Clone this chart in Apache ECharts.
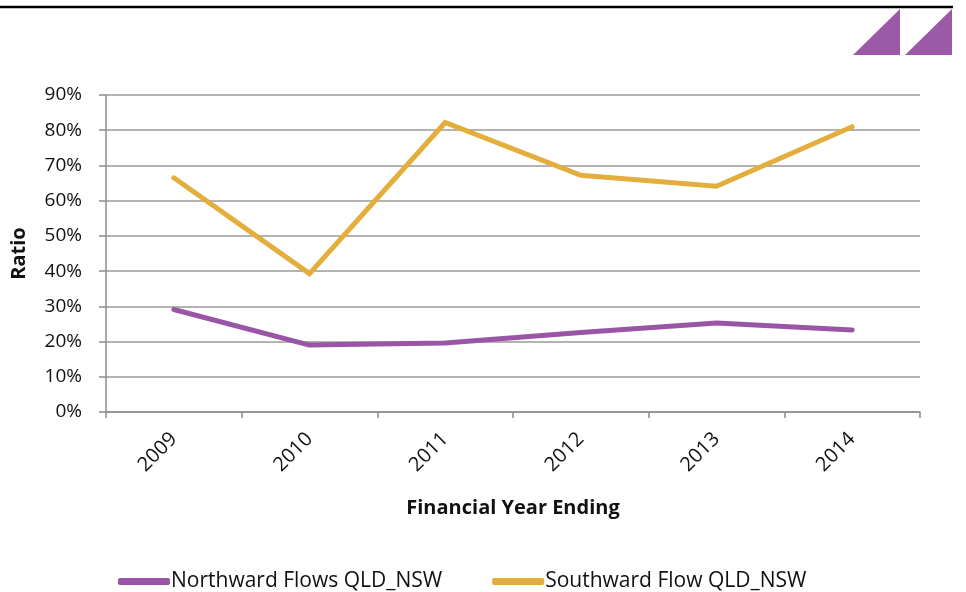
<!DOCTYPE html>
<html>
<head>
<meta charset="utf-8">
<script src="https://cdn.jsdelivr.net/npm/echarts@6/dist/echarts.min.js"></script>
<style>html,body{margin:0;padding:0;background:#fff}#c{width:966px;height:592px}</style>
</head>
<body>
<div id="c"></div>
<script>
const years = ['2009', '2010', '2011', '2012', '2013', '2014'];
const northward = [29.1, 19.0, 19.6, 22.6, 25.3, 23.3];
const southward = [66.5, 39.3, 82.2, 67.2, 64.1, 81.0];
const yTicks = [0, 10, 20, 30, 40, 50, 60, 70, 80, 90];
const seriesNames = ['Northward Flows QLD_NSW', 'Southward Flow QLD_NSW'];

const FONT = '"Open Sans", Lato, sans-serif';
const chart = echarts.init(document.getElementById('c'));
chart.setOption({
  animation: false,
  textStyle: { fontFamily: FONT },
  graphic: [
    { type: 'line', shape: { x1: 0, y1: 7, x2: 953, y2: 7 }, style: { stroke: '#000', lineWidth: 2.5 } },
    { type: 'polygon', shape: { points: [[853, 55], [900, 9], [900, 55]] }, style: { fill: '#9B59A7' } },
    { type: 'polygon', shape: { points: [[905, 55], [952, 9], [952, 55]] }, style: { fill: '#9B59A7' } }
  ],
  grid: { left: 106, right: 46, top: 95, bottom: 180 },
  legend: {
    left: 113, top: 566,
    itemWidth: 52, itemHeight: 7, itemGap: 50,
    icon: 'roundRect',
    textStyle: { fontSize: 21, color: '#111', fontFamily: FONT, padding: [0, 0, 0, -4] },
    data: seriesNames
  },
  xAxis: {
    type: 'category',
    data: years,
    boundaryGap: true,
    name: 'Financial Year Ending',
    nameLocation: 'middle',
    nameGap: 86,
    nameTextStyle: { fontSize: 20, fontWeight: 'bold', color: '#111', fontFamily: FONT },
    axisLine: { lineStyle: { color: '#8c8c8c', width: 1.5 } },
    axisTick: { show: true, length: 6, lineStyle: { color: '#8c8c8c', width: 1.5 } },
    axisLabel: { rotate: 45, fontSize: 20, color: '#111', margin: 24, fontFamily: FONT }
  },
  yAxis: {
    type: 'value',
    min: 0, max: 90, interval: 10,
    name: 'Ratio',
    nameLocation: 'middle',
    nameGap: 77,
    nameTextStyle: { fontSize: 20, fontWeight: 'bold', color: '#111', fontFamily: FONT },
    axisLine: { show: true, lineStyle: { color: '#8c8c8c', width: 1.5 } },
    axisTick: { show: true, length: 7, lineStyle: { color: '#8c8c8c', width: 1.5 } },
    axisLabel: {
      fontSize: 19, color: '#111', margin: 24, fontFamily: FONT,
      formatter: v => (yTicks.includes(v) ? v + '%' : '')
    },
    splitLine: { lineStyle: { color: '#9a9a9a', width: 1.5 } }
  },
  series: [
    {
      name: seriesNames[0], type: 'line', data: northward,
      symbol: 'none', itemStyle: { color: '#9B55A6' },
      lineStyle: { color: '#9B55A6', width: 5, cap: 'round', join: 'round' }
    },
    {
      name: seriesNames[1], type: 'line', data: southward,
      symbol: 'none', itemStyle: { color: '#E3AE3B' },
      lineStyle: { color: '#E3AE3B', width: 5, cap: 'round', join: 'miter' }
    }
  ]
});
</script>
</body>
</html>
